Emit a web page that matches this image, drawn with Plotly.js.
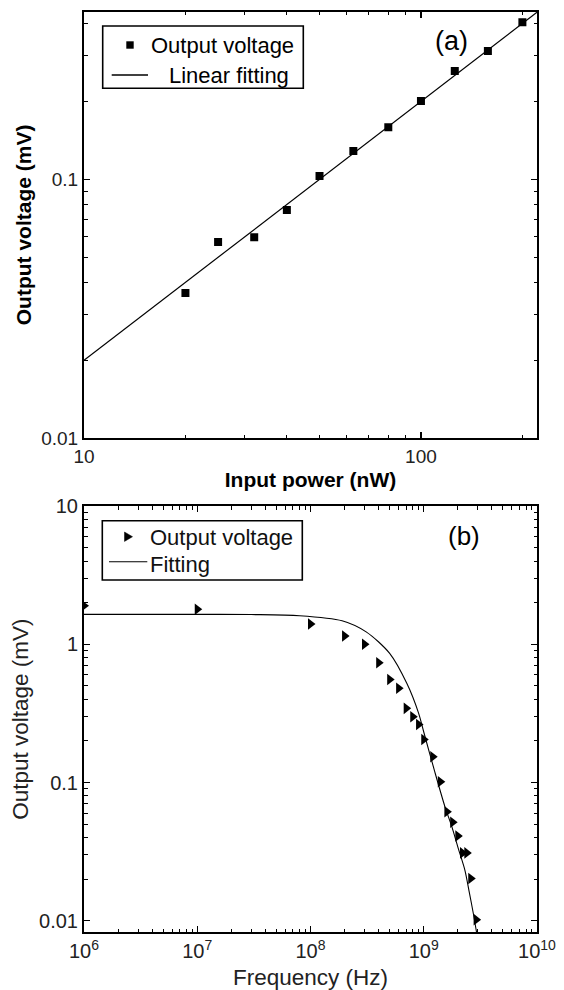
<!DOCTYPE html>
<html>
<head>
<meta charset="utf-8">
<script src="https://cdn.plot.ly/plotly-3.0.1.min.js"></script>
<style>
html,body{margin:0;padding:0;background:#fff;}
#chart{width:564px;height:990px;}
</style>
</head>
<body>
<div id="chart"></div>
<script>
// ---------- Panel (a): output voltage vs input power ----------
const powerNW   = [20, 25, 32, 40, 50, 63, 80, 100, 126, 158, 200];
const voltageA  = [0.0364, 0.0573, 0.0598, 0.0761, 0.103, 0.1286, 0.159, 0.2005, 0.262, 0.313, 0.404];
const fitPowerNW  = [10, 221];
const fitVoltageA = [0.02, 0.442];

// ---------- Panel (b): output voltage vs frequency ----------
const freqHz   = [1e6, 1e7, 1e8, 2e8, 3e8, 4e8, 5e8, 6e8, 7e8, 8e8, 9e8, 1e9, 1.2e9, 1.4e9, 1.6e9, 1.8e9, 2.0e9, 2.2e9, 2.4e9, 2.6e9, 2.9e9];
const voltageB = [1.90, 1.79, 1.40, 1.146, 1.0, 0.735, 0.557, 0.48, 0.344, 0.299, 0.263, 0.205, 0.1535, 0.1015, 0.0614, 0.0517, 0.041, 0.031, 0.031, 0.0202, 0.0102];
const fitFreqHz   = [1e6, 1e7, 3e7, 8e7, 1.9e8, 3.1e8, 5e8, 7.1e8, 9e8, 1e9, 1.25e9, 1.54e9, 1.77e9, 2.02e9, 2.31e9, 2.52e9, 2.74e9, 2.93e9];
const fitVoltageB = [1.645, 1.645, 1.64, 1.61, 1.48, 1.23, 0.86, 0.52, 0.318, 0.232, 0.12, 0.0667, 0.048, 0.0333, 0.0232, 0.0162, 0.0113, 0.0082];

// ---------- Tick values and labels ----------
const tickValsXA  = [10, 100];
const tickTextXA  = ['10', '100'];
const minorXA     = [20, 30, 40, 50, 60, 70, 80, 90, 200];
const tickValsYA  = [0.01, 0.1];
const tickTextYA  = ['0.01', '0.1'];
const minorYA     = [0.02, 0.03, 0.04, 0.05, 0.06, 0.07, 0.08, 0.09, 0.2, 0.3, 0.4];

const tickValsXB  = [1e6, 1e7, 1e8, 1e9, 1e10];
const tickTextXB  = ['10<sup>6</sup>', '10<sup>7</sup>', '10<sup>8</sup>', '10<sup>9</sup>', '10<sup>10</sup>'];
const minorXB     = [2e6,3e6,4e6,5e6,6e6,7e6,8e6,9e6, 2e7,3e7,4e7,5e7,6e7,7e7,8e7,9e7, 2e8,3e8,4e8,5e8,6e8,7e8,8e8,9e8, 2e9,3e9,4e9,5e9,6e9,7e9,8e9,9e9];
const tickValsYB  = [0.01, 0.1, 1, 10];
const tickTextYB  = ['0.01', '0.1', '1', '10'];
const minorYB     = [0.02,0.03,0.04,0.05,0.06,0.07,0.08,0.09, 0.2,0.3,0.4,0.5,0.6,0.7,0.8,0.9, 2,3,4,5,6,7,8,9];

// ---------- Legend labels ----------
const legendLabelsA = ['Output voltage', 'Linear fitting'];
const legendLabelsB = ['Output voltage', 'Fitting'];
const panelLabels   = ['(a)', '(b)'];

const FONT = 'Liberation Sans, Arial, Helvetica, sans-serif';
const W = 564, H = 990;
const px = v => v / W;          // pixel -> paper x
const py = v => 1 - v / H;      // pixel -> paper y

function baseAxis(extra) {
  return Object.assign({
    type: 'log', showline: true, linecolor: '#000', linewidth: 2,
    mirror: 'ticks', ticks: 'inside', ticklen: 6, tickwidth: 1.3, tickcolor: '#000',
    showgrid: false, zeroline: false, fixedrange: true, automargin: false
  }, extra);
}
function minorOf(vals) {
  return {tickmode: 'array', tickvals: vals, ticks: 'inside', ticklen: 3.5, tickwidth: 1, tickcolor: '#000', showgrid: false};
}

const traces = [
  {x: powerNW, y: voltageA, type: 'scatter', mode: 'markers', name: legendLabelsA[0],
   marker: {symbol: 'square', size: 8, color: '#000'}, xaxis: 'x', yaxis: 'y'},
  {x: fitPowerNW, y: fitVoltageA, type: 'scatter', mode: 'lines', name: legendLabelsA[1],
   line: {color: '#000', width: 1.2}, xaxis: 'x', yaxis: 'y'},
  {x: freqHz, y: voltageB, type: 'scatter', mode: 'markers', name: legendLabelsB[0],
   marker: {symbol: 'triangle-right', size: 10, color: '#000'}, xaxis: 'x2', yaxis: 'y2'},
  {x: fitFreqHz, y: fitVoltageB, type: 'scatter', mode: 'lines', name: legendLabelsB[1],
   line: {color: '#000', width: 1.1, shape: 'spline', smoothing: 0.8}, xaxis: 'x2', yaxis: 'y2'}
];

// hand-built legends (box, sample marks, labels)
const shapes = [
  // legend (a)
  {type: 'rect', xref: 'paper', yref: 'paper', x0: px(102.7), x1: px(303.3), y0: py(88.3), y1: py(26),
   line: {color: '#000', width: 1.6}, fillcolor: '#fff', layer: 'above'},
  {type: 'rect', xref: 'paper', yref: 'paper', x0: px(126.3), x1: px(133.7), y0: py(48.7), y1: py(41.3),
   line: {color: '#000', width: 0}, fillcolor: '#000', layer: 'above'},
  {type: 'line', xref: 'paper', yref: 'paper', x0: px(111.7), x1: px(148), y0: py(75), y1: py(75),
   line: {color: '#000', width: 1.3}, layer: 'above'},
  // legend (b)
  {type: 'rect', xref: 'paper', yref: 'paper', x0: px(102.3), x1: px(302.3), y0: py(580), y1: py(520.7),
   line: {color: '#000', width: 1.6}, fillcolor: '#fff', layer: 'above'},
  {type: 'path', xref: 'paper', yref: 'paper',
   path: 'M ' + px(124.5) + ' ' + py(532) + ' L ' + px(132.5) + ' ' + py(536.7) + ' L ' + px(124.5) + ' ' + py(541.4) + ' Z',
   line: {color: '#000', width: 0.5}, fillcolor: '#000', layer: 'above'},
  {type: 'line', xref: 'paper', yref: 'paper', x0: px(109), x1: px(147.3), y0: py(561.7), y1: py(561.7),
   line: {color: '#000', width: 1.1}, layer: 'above'}
];

function ann(text, x, y, size, color, xanchor) {
  return {text: text, xref: 'paper', yref: 'paper', x: px(x), y: py(y), showarrow: false,
          xanchor: xanchor || 'left', yanchor: 'middle', borderpad: 0,
          font: {family: FONT, size: size, color: color}};
}

const annotations = [
  ann(legendLabelsA[0], 149.5, 45.5, 22, '#000'),
  ann(legendLabelsA[1], 168.5, 75.5, 22, '#000'),
  ann(legendLabelsB[0], 148.5, 537, 22, '#111'),
  ann(legendLabelsB[1], 148.5, 564.5, 22, '#111'),
  ann(panelLabels[0], 451.5, 41, 27, '#000', 'center'),
  ann(panelLabels[1], 464, 536, 26, '#000', 'center')
];

const xDom = [px(84), px(537)];
const layout = {
  width: W, height: H,
  margin: {l: 0, r: 0, t: 0, b: 0},
  paper_bgcolor: '#fff', plot_bgcolor: '#fff',
  font: {family: FONT, color: '#000'},
  showlegend: false,
  xaxis: baseAxis({
    domain: xDom, anchor: 'y', range: [1, Math.log10(221)],
    tickmode: 'array', tickvals: tickValsXA, ticktext: tickTextXA, minor: minorOf(minorXA),
    tickfont: {family: FONT, size: 19, color: '#222'},
    title: {text: 'Input power (nW)', font: {family: FONT, size: 21, weight: 700, color: '#000'}, standoff: 6}
  }),
  yaxis: baseAxis({
    domain: [py(438.3), py(11.5)], anchor: 'x', range: [-2, -0.352],
    tickmode: 'array', tickvals: tickValsYA, ticktext: tickTextYA, minor: minorOf(minorYA),
    tickfont: {family: FONT, size: 19, color: '#222'},
    title: {text: 'Output voltage (mV)', font: {family: FONT, size: 21, weight: 700, color: '#000'}, standoff: 4}
  }),
  xaxis2: baseAxis({
    domain: xDom, anchor: 'y2', range: [6, 10],
    tickmode: 'array', tickvals: tickValsXB, ticktext: tickTextXB, minor: minorOf(minorXB),
    tickfont: {family: FONT, size: 20, color: '#222'},
    title: {text: 'Frequency (Hz)', font: {family: FONT, size: 22.5, color: '#222'}, standoff: 10}
  }),
  yaxis2: baseAxis({
    domain: [py(932.3), py(506)], anchor: 'x2', range: [-2.083, 1],
    tickmode: 'array', tickvals: tickValsYB, ticktext: tickTextYB, minor: minorOf(minorYB),
    tickfont: {family: FONT, size: 20, color: '#222'},
    title: {text: 'Output voltage (mV)', font: {family: FONT, size: 22.5, color: '#222'}, standoff: 4}
  }),
  shapes: shapes,
  annotations: annotations
};

Plotly.newPlot('chart', traces, layout, {staticPlot: true, displayModeBar: false});
</script>
</body>
</html>
